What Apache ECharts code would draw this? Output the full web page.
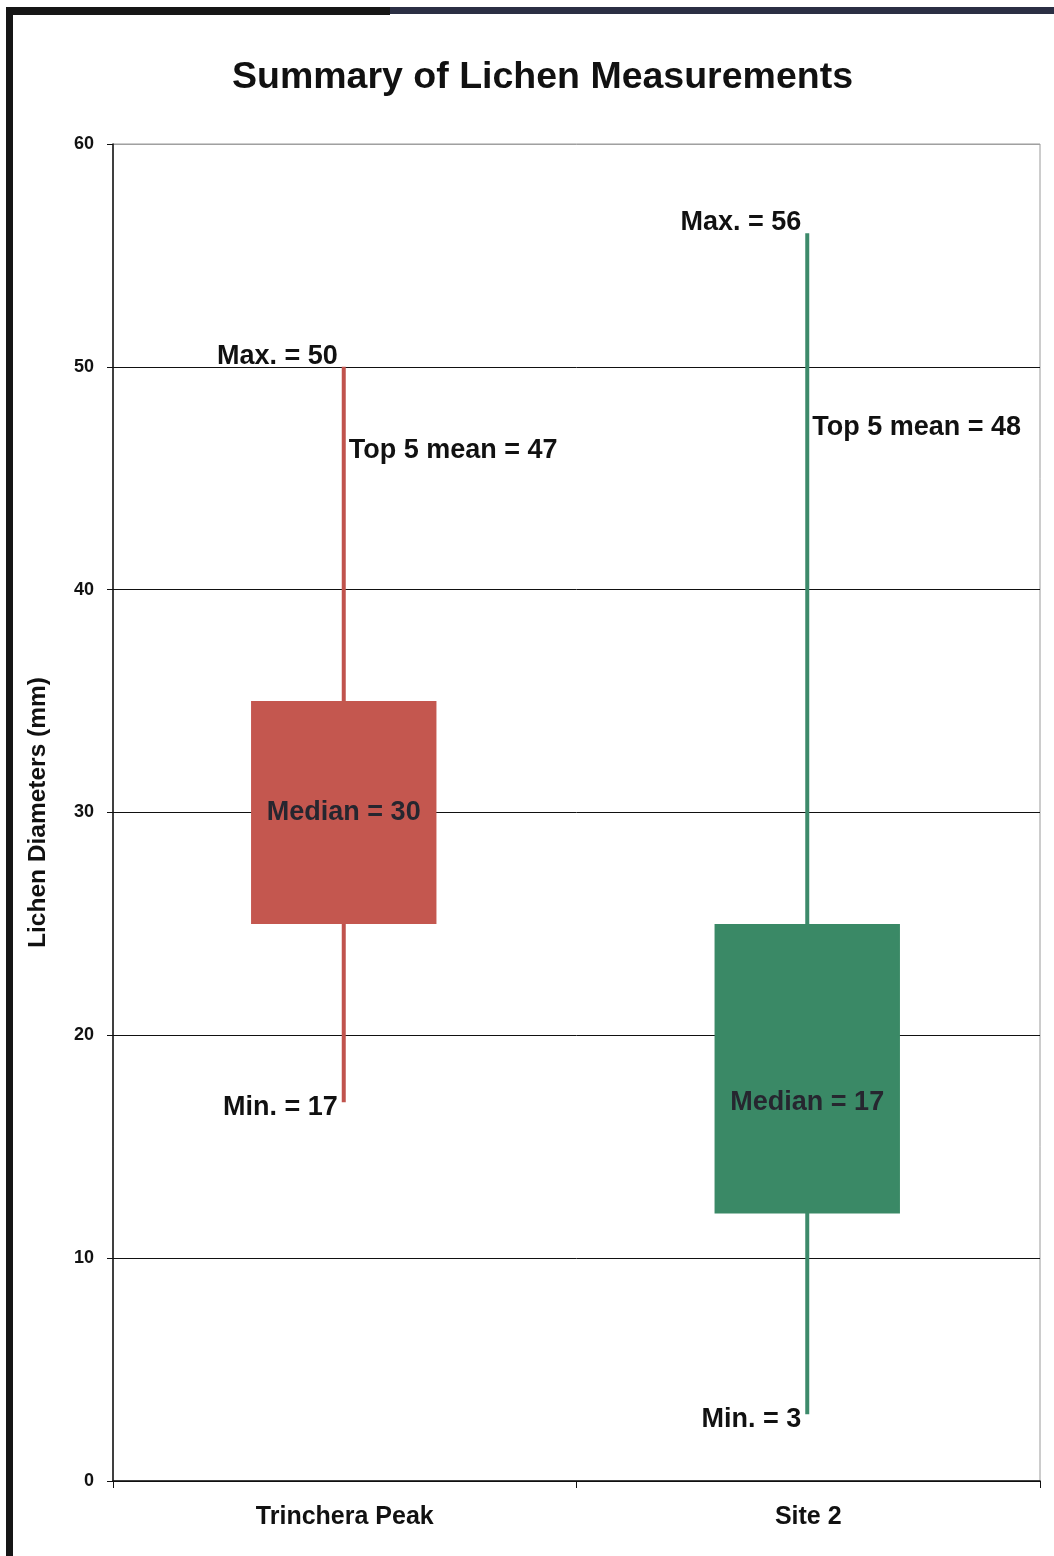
<!DOCTYPE html>
<html>
<head>
<meta charset="utf-8">
<script src="https://cdn.jsdelivr.net/npm/echarts@6/dist/echarts.min.js"></script>
<style>
html,body{margin:0;padding:0;background:#fff;}
#c{width:1054px;height:1556px;}
</style>
</head>
<body>
<div id="c"></div>
<script>
var categories = ['Trinchera Peak', 'Site 2'];
var minValues = [17, 3];
var q1Values = [25, 12];
var medianValues = [30, 17];
var q3Values = [35, 25];
var maxValues = [50, 56];
var top5MeanValues = [47, 48];
var yTicks = [0, 10, 20, 30, 40, 50, 60];

var boxColors = ['#c4574f', '#3a8966'];
var whiskerColors = ['#c0534d', '#3d8a6b'];
var FONT = '"Liberation Sans", Arial, sans-serif';

var seriesData = categories.map(function (c, i) {
  return [i, minValues[i], q1Values[i], medianValues[i], q3Values[i], maxValues[i], top5MeanValues[i]];
});

function renderItem(params, api) {
  var idx = api.value(0);
  var vMin = api.value(1), vQ1 = api.value(2), vMed = api.value(3), vQ3 = api.value(4), vMax = api.value(5), vTop = api.value(6);
  var pMin = api.coord([idx, vMin]);
  var pQ1 = api.coord([idx, vQ1]);
  var pMed = api.coord([idx, vMed]);
  var pQ3 = api.coord([idx, vQ3]);
  var pMax = api.coord([idx, vMax]);
  var pTop = api.coord([idx, vTop]);
  var band = api.size([1, 0])[0];
  var bw = band * 0.4;
  var cx = pMed[0] - 1;
  var txt = {fontFamily: FONT, fontWeight: 'bold', fontSize: 27, fill: '#111'};
  function t(text, x, y, align, valign, extra) {
    var s = {text: text, x: x, y: y, textAlign: align, textVerticalAlign: valign};
    for (var k in txt) s[k] = txt[k];
    if (extra) for (var k2 in extra) s[k2] = extra[k2];
    return {type: 'text', style: s};
  }
  return {
    type: 'group',
    children: [
      {type: 'rect', shape: {x: cx - 2, y: pMax[1], width: 4, height: pMin[1] - pMax[1]}, style: {fill: whiskerColors[idx]}},
      {type: 'rect', shape: {x: cx - bw / 2, y: pQ3[1], width: bw, height: pQ1[1] - pQ3[1]}, style: {fill: boxColors[idx]}},
      t('Median = ' + vMed, cx, pMed[1], 'center', 'middle', {fill: '#26262f'}),
      t('Max. = ' + vMax, cx - 6, pMax[1] + 3, 'right', 'bottom'),
      t('Top 5 mean = ' + vTop, cx + 5, pTop[1] + 3, 'left', 'top'),
      t('Min. = ' + vMin, cx - 6, pMin[1] + 5, 'right', 'middle')
    ]
  };
}

var chart = echarts.init(document.getElementById('c'), null, {renderer: 'canvas'});
chart.setOption({
  backgroundColor: '#ffffff',
  animation: false,
  title: {
    text: 'Summary of Lichen Measurements',
    left: 232,
    top: 59,
    padding: 0,
    textStyle: {fontFamily: FONT, fontWeight: 'bold', fontSize: 37.5, color: '#111'}
  },
  graphic: [
    {type: 'rect', shape: {x: 6, y: 7, width: 7, height: 1549}, style: {fill: '#161616'}},
    {type: 'rect', shape: {x: 6, y: 7, width: 384, height: 8}, style: {fill: '#161616'}},
    {type: 'rect', shape: {x: 390, y: 7, width: 664, height: 7}, style: {fill: '#2b2f44'}}
  ],
  grid: {
    left: 113, right: 14, top: 144, bottom: 75,
    show: true, borderColor: '#9a9a9a', borderWidth: 1, backgroundColor: 'transparent'
  },
  xAxis: {
    type: 'category',
    data: categories,
    boundaryGap: true,
    axisLine: {lineStyle: {color: '#111', width: 1.5}},
    axisTick: {show: true, length: 7, lineStyle: {color: '#111'}},
    axisLabel: {margin: 24, fontFamily: FONT, fontWeight: 'bold', fontSize: 25, color: '#111'}
  },
  yAxis: {
    type: 'value',
    min: yTicks[0],
    max: yTicks[yTicks.length - 1],
    interval: 10,
    name: 'Lichen Diameters (mm)',
    nameLocation: 'middle',
    nameRotate: 90,
    nameGap: 62,
    nameTextStyle: {fontFamily: FONT, fontWeight: 'bold', fontSize: 24.5, color: '#111'},
    axisLine: {show: true, lineStyle: {color: '#111', width: 1.5}},
    axisTick: {show: true, length: 6, lineStyle: {color: '#111'}},
    axisLabel: {margin: 19, fontFamily: FONT, fontWeight: 'bold', fontSize: 18, color: '#111'},
    splitLine: {show: true, lineStyle: {color: ['#111', '#111', '#111', '#111', '#111', '#111', '#a0a0a0'], width: 1}}
  },
  series: [{
    type: 'custom',
    renderItem: renderItem,
    encode: {x: 0, y: [1, 5]},
    data: seriesData,
    z: 5
  }]
});
</script>
</body>
</html>
